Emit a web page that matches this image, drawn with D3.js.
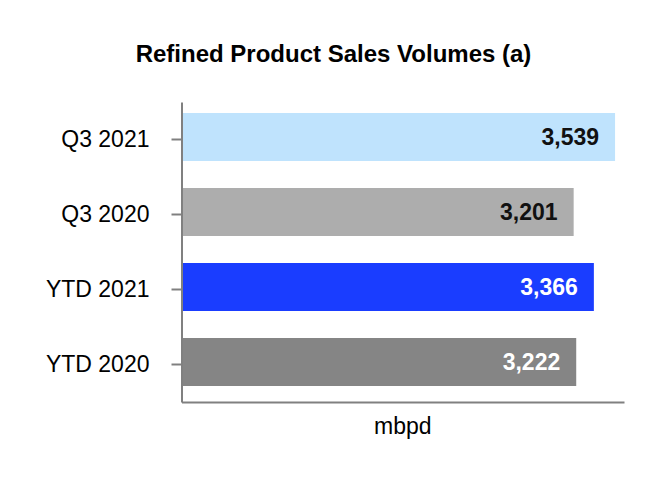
<!DOCTYPE html>
<html>
<head>
<meta charset="utf-8">
<script src="https://cdn.jsdelivr.net/npm/d3@7"></script>
<style>
    html, body { margin: 0; padding: 0; background: #fff; }
    svg { display: block; font-family: Arial, "Liberation Sans", sans-serif; }
</style>
</head>
<body>
<div id="chart"></div>
<script>
// Data
const categories = ['Q3 2021', 'Q3 2020', 'YTD 2021', 'YTD 2020'];
const volumes = [3539, 3201, 3366, 3222];
const barColors = ['#bfe3fd', '#adadad', '#1a3dff', '#858585'];
const labelColors = ['#111', '#111', '#fff', '#fff'];

const width = 666, height = 480;

const svg = d3.select('#chart')
    .append('svg')
    .attr('width', width)
    .attr('height', height);

const x = d3.scaleLinear()
    .domain([0, 3612])
    .range([181.5, 624]);

const y = d3.scaleBand()
    .domain(categories)
    .range([99.5, 399.5])
    .paddingInner(0.36)
    .paddingOuter(0.18);

// Title
svg.append('text')
    .attr('x', 333.5)
    .attr('y', 62)
    .attr('text-anchor', 'middle')
    .style('font-size', '24px')
    .style('font-weight', 'bold')
    .text('Refined Product Sales Volumes (a)');

// Bars
svg.selectAll('.bar')
    .data(volumes)
    .join('rect')
    .attr('class', 'bar')
    .attr('x', x(0))
    .attr('y', (d, i) => y(categories[i]))
    .attr('width', d => x(d) - x(0))
    .attr('height', y.bandwidth())
    .attr('fill', (d, i) => barColors[i]);

// Value labels inside bar ends
svg.selectAll('.value')
    .data(volumes)
    .join('text')
    .attr('class', 'value')
    .attr('x', d => x(d) - 16)
    .attr('y', (d, i) => y(categories[i]) + y.bandwidth() / 2 + 8)
    .attr('text-anchor', 'end')
    .style('font-size', '23px')
    .style('font-weight', 'bold')
    .attr('fill', (d, i) => labelColors[i])
    .text(d => d3.format(',')(d));

// Category axis (ticks sit a little below bar centres)
const yAxis = svg.append('g')
    .attr('transform', 'translate(181.5,2.5)')
    .call(d3.axisLeft(y).tickSize(10).tickSizeOuter(0).tickPadding(22));
yAxis.select('.domain').attr('stroke', '#808080').attr('stroke-width', 2);
yAxis.selectAll('.tick line').attr('stroke', '#808080').attr('stroke-width', 2);
yAxis.selectAll('.tick text')
    .attr('fill', '#000')
    .style('font-size', '23px')
    .style('font-family', 'Arial, "Liberation Sans", sans-serif');

// Value axis: bare baseline
const xAxis = svg.append('g')
    .attr('transform', 'translate(0,402)')
    .call(d3.axisBottom(x).tickValues([]).tickSizeOuter(0));
xAxis.select('.domain').attr('stroke', '#808080').attr('stroke-width', 2);

svg.append('text')
    .attr('x', (x.range()[0] + x.range()[1]) / 2)
    .attr('y', 434)
    .attr('text-anchor', 'middle')
    .style('font-size', '23px')
    .text('mbpd');
</script>
</body>
</html>
